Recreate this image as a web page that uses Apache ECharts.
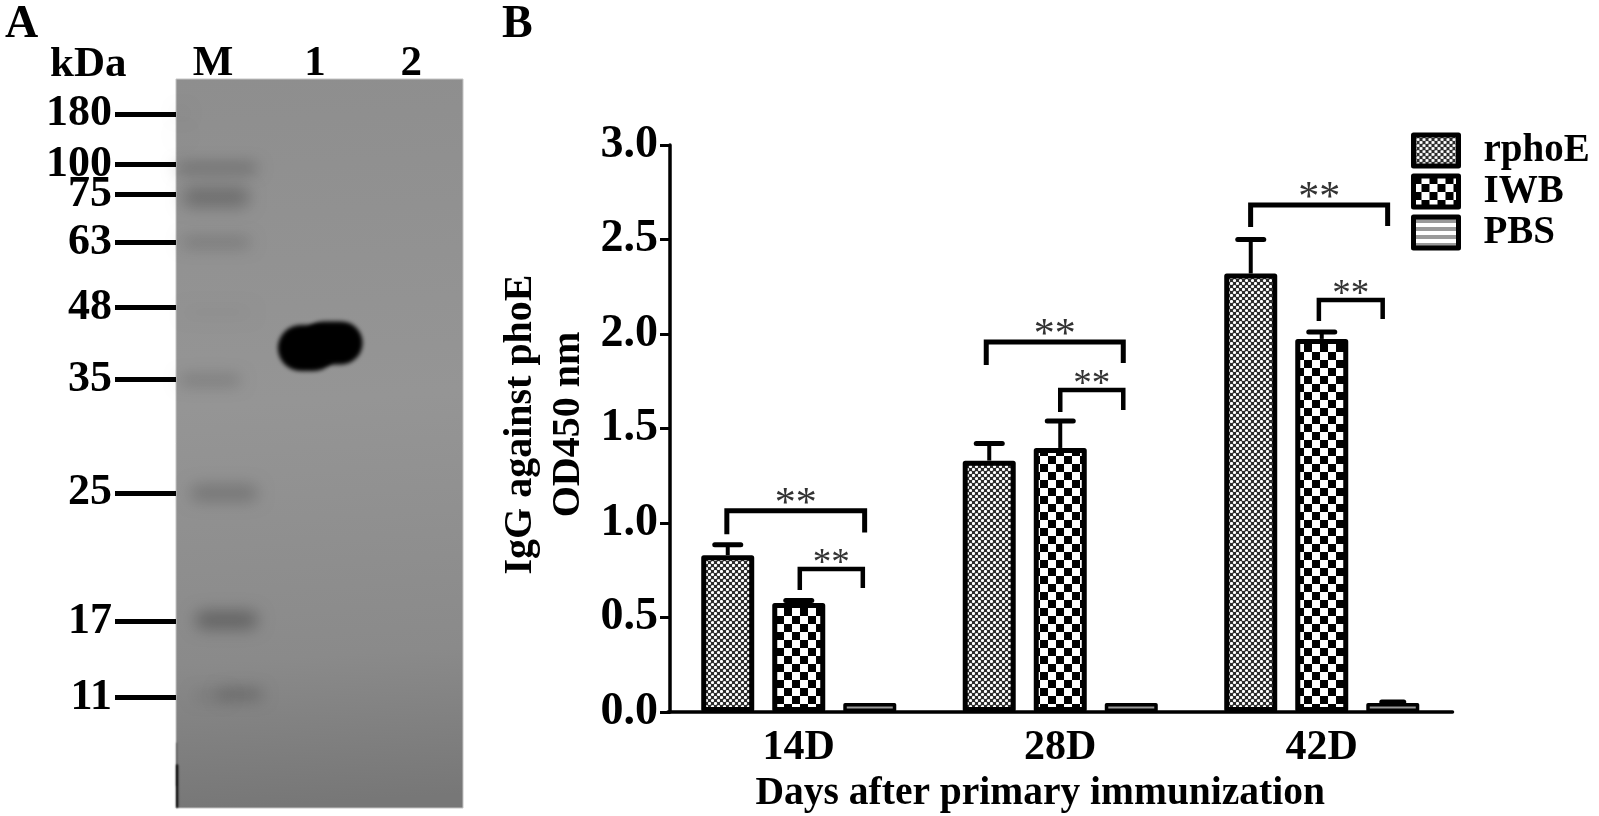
<!DOCTYPE html>
<html>
<head>
<meta charset="utf-8">
<title>rphoE western blot and IgG</title>
<style>
    html, body { margin: 0; background: #fff; }
    #main { width: 1599px; height: 816px; }
</style>
</head>
<body>
<div id="main"></div>
<script src="https://cdn.jsdelivr.net/npm/echarts@6/dist/echarts.min.js"></script>
<script>
    // ---- panel A, positions are % of the membrane ----
    const ladderLabels = ['180', '100', '75', '63', '48', '35', '25', '17', '11']
    const ladderMigration = [4.8, 11.7, 15.8, 22.4, 31.3, 41.2, 56.8, 74.4, 84.8]
    const laneLabels = ['M', '1', '2']
    const lanePositions = [12.9, 48.4, 82]

    // [left, right, middle, thickness, darkness]
    const markerBands = [
        [0.3, 3.5, 4.7, 0.5, 0.22],
        [0.3, 3, 7.7, 0.4, 0.14],
        [0.3, 28.2, 12.2, 0.8, 0.46],
        [2.1, 25.8, 16.2, 2.8, 0.24],
        [2.1, 25.8, 22.4, 1.0, 0.26],
        [3.1, 25.8, 32, 0.6, 0.08],
        [1.4, 22.3, 41.3, 1.0, 0.26],
        [4.9, 28.6, 56.8, 2.2, 0.2],
        [6.6, 28.6, 74.2, 2.4, 0.3],
        [6.6, 18, 84.6, 0.6, 0.24],
        [15, 30, 84.4, 1.1, 0.32]
    ]
    const blotLobes = [
        [35.5, 56, 36.9, 6.3, 1],
        [44, 65, 36.2, 5.9, 1]
    ]
    const gelEdge = [
        [0, 0.4, 94, 6, 0.4],
        [0, 0.8, 97, 6, 0.9]
    ]

    // ---- panel B ----
    const days = ['14D', '28D', '42D']
    const seriesNames = ['rphoE', 'IWB', 'PBS']
    const rphoE = [0.83, 1.33, 2.32]
    const iwb = [0.577, 1.397, 1.974]
    const pbs = [0.048, 0.048, 0.048]
    const rphoEError = [0.885, 1.42, 2.5]
    const iwbError = [0.59, 1.54, 2.01]
    const pbsError = [0.048, 0.048, 0.053]

    // significance brackets, x is the offset from the group centre in bands
    const bracketGroup = [0, 0, 1, 1, 2, 2]
    const bracketLeft = [-0.275, 0.004, -0.283, 0, -0.272, -0.011]
    const bracketRight = [0.252, 0.245, 0.241, 0.241, 0.252, 0.233]
    const bracketTop = [1.065, 0.757, 1.958, 1.704, 2.683, 2.18]
    const bracketLeftEnd = [0.94, 0.645, 1.836, 1.587, 2.566, 2.069]
    const bracketRightEnd = [0.95, 0.656, 1.847, 1.598, 2.571, 2.079]
    const bracketText = ['**', '**', '**', '**', '**', '**']

    const FONT = '"Liberation Serif", serif'
    const barSlot = 71 / 261.5

    function makePattern(size, draw) {
        const c = document.createElement('canvas')
        c.width = size
        c.height = size
        draw(c.getContext('2d'))
        return { image: c, repeat: 'repeat' }
    }

    const dotPattern = makePattern(6, (ctx) => {
        ctx.fillStyle = '#2c2c2c'
        ctx.fillRect(0, 0, 6, 6)
        ctx.fillStyle = '#fff'
        ctx.beginPath()
        ctx.arc(1.5, 1.5, 1.6, 0, Math.PI * 2)
        ctx.arc(4.5, 4.5, 1.6, 0, Math.PI * 2)
        ctx.fill()
    })
    const checkPattern = makePattern(16, (ctx) => {
        ctx.fillStyle = '#fff'
        ctx.fillRect(0, 0, 16, 16)
        ctx.fillStyle = '#000'
        ctx.fillRect(0, 0, 8, 8)
        ctx.fillRect(8, 8, 8, 8)
    })
    const stripePattern = makePattern(8, (ctx) => {
        ctx.fillStyle = '#fff'
        ctx.fillRect(0, 0, 8, 8)
        ctx.fillStyle = '#9a9a9a'
        ctx.fillRect(0, 2, 8, 4)
    })

    // soft band: the shape sits off the page and only its shadow lands on the gel
    function softBand(blur) {
        return function (params, api) {
            const a = api.coord([api.value(0), api.value(2) - api.value(3) / 2])
            const b = api.coord([api.value(1), api.value(2) + api.value(3) / 2])
            const h = b[1] - a[1]
            return {
                type: 'rect',
                shape: { x: a[0] - 3000, y: a[1], width: b[0] - a[0], height: h, r: h / 2 },
                style: {
                    fill: '#000',
                    shadowColor: 'rgba(0,0,0,' + api.value(4) + ')',
                    shadowBlur: blur,
                    shadowOffsetX: 3000
                },
                silent: true
            }
        }
    }

    function renderError(params, api) {
        const band = api.size([1, 0])[0]
        const x = api.coord([api.value(0), 0])[0] + (api.value(1) - 1) * barSlot * band
        const y0 = api.coord([api.value(0), api.value(2)])[1]
        const y1 = api.coord([api.value(0), api.value(3)])[1]
        const capW = api.value(1) === 2 ? 11 : 13
        return {
            type: 'group',
            silent: true,
            children: [
                { type: 'line', shape: { x1: x, y1: y0, x2: x, y2: y1 }, style: { stroke: '#000', lineWidth: 4 } },
                { type: 'line', shape: { x1: x - capW, y1: y1, x2: x + capW, y2: y1 }, style: { stroke: '#000', lineWidth: 5, lineCap: 'round' } }
            ]
        }
    }

    function renderBracket(params, api) {
        const band = api.size([1, 0])[0]
        const cx = api.coord([api.value(0), 0])[0]
        const xl = cx + api.value(1) * band
        const xr = cx + api.value(2) * band
        const top = api.coord([api.value(0), api.value(3)])[1]
        const yl = api.coord([api.value(0), api.value(4)])[1]
        const yr = api.coord([api.value(0), api.value(5)])[1]
        const wide = api.value(2) - api.value(1) > 0.4
        return {
            type: 'group',
            silent: true,
            children: [
                {
                    type: 'polyline',
                    shape: { points: [[xl, yl], [xl, top], [xr, top], [xr, yr]] },
                    style: { stroke: '#000', fill: null, lineWidth: wide ? 5 : 4.5 }
                },
                {
                    type: 'text',
                    style: {
                        text: bracketText[params.dataIndex],
                        x: (xl + xr) / 2,
                        y: top - (wide ? 6 : 5),
                        align: 'center',
                        verticalAlign: 'middle',
                        fill: '#333',
                        font: (wide ? 42 : 37) + 'px ' + FONT
                    }
                }
            ]
        }
    }

    const errorData = []
    ;[[rphoE, rphoEError], [iwb, iwbError], [pbs, pbsError]].forEach((pair, slot) => {
        days.forEach((d, g) => {
            if (pair[1][g] > pair[0][g]) errorData.push([g, slot, pair[0][g], pair[1][g]])
        })
    })

    function barSeries(name, values, pattern, borderWidth) {
        return {
            name: name,
            type: 'bar',
            xAxisIndex: 1,
            yAxisIndex: 1,
            barWidth: 53,
            barGap: '34%',
            data: values,
            itemStyle: { color: pattern, borderColor: '#000', borderWidth: borderWidth, borderJoin: 'round' },
            silent: true,
            animation: false
        }
    }

    const option = {
        animation: false,
        backgroundColor: '#fff',
        title: [
            { text: 'A', left: 0, top: -3, textStyle: { fontFamily: FONT, fontSize: 46, fontWeight: 'bold', color: '#000' } },
            { text: 'B', left: 497, top: -3, textStyle: { fontFamily: FONT, fontSize: 46, fontWeight: 'bold', color: '#000' } },
            { text: 'kDa', left: 45, top: 38, textStyle: { fontFamily: FONT, fontSize: 43, fontWeight: 'bold', color: '#000' } }
        ],
        legend: {
            orient: 'vertical',
            left: 1406,
            top: 126,
            itemWidth: 45,
            itemHeight: 31,
            itemGap: 2,
            icon: 'rect',
            selectedMode: false,
            data: seriesNames,
            itemStyle: { borderColor: '#000', borderWidth: 5, borderJoin: 'round' },
            textStyle: { fontFamily: FONT, fontSize: 39, lineHeight: 31, fontWeight: 'bold', color: '#000', padding: [0, 0, 0, 20] }
        },
        grid: [
            {
                left: 176, top: 79, width: 287, height: 729,
                outerBoundsMode: 'none',
                show: true,
                borderColor: '#c4c4c4',
                borderWidth: 1,
                backgroundColor: {
                    type: 'linear', x: 0, y: 0, x2: 0.15, y2: 1,
                    colorStops: [
                        { offset: 0, color: '#8e8e8e' },
                        { offset: 0.45, color: '#959595' },
                        { offset: 0.8, color: '#8a8a8a' },
                        { offset: 1, color: '#777' }
                    ]
                }
            },
            { left: 668, top: 145, width: 784.5, height: 567, outerBoundsMode: 'none' }
        ],
        xAxis: [
            {
                gridIndex: 0,
                type: 'value',
                position: 'top',
                min: 0,
                max: 100,
                splitLine: { show: false },
                axisLine: { show: false },
                axisTick: { show: false },
                axisLabel: {
                    customValues: lanePositions,
                    formatter: (v) => laneLabels[lanePositions.indexOf(v)],
                    margin: -6,
                    color: '#000',
                    fontFamily: FONT,
                    fontSize: 43,
                    fontWeight: 'bold'
                }
            },
            {
                gridIndex: 1,
                type: 'category',
                data: days,
                name: 'Days after primary immunization',
                nameLocation: 'middle',
                nameGap: 60,
                nameTextStyle: { fontFamily: FONT, fontSize: 39.5, fontWeight: 'bold', color: '#000', padding: [0, 40, 0, 0] },
                axisLine: { lineStyle: { color: '#000', width: 3.5 } },
                axisTick: { alignWithLabel: true, length: 11, lineStyle: { color: '#000', width: 3 } },
                axisLabel: { margin: 15, color: '#000', fontFamily: FONT, fontSize: 42, fontWeight: 'bold' }
            }
        ],
        yAxis: [
            {
                gridIndex: 0,
                type: 'value',
                inverse: true,
                min: 0,
                max: 100,
                splitLine: { show: false },
                axisLine: { show: false },
                axisTick: {
                    customValues: ladderMigration,
                    length: 61,
                    lineStyle: { color: '#000', width: 5 }
                },
                axisLabel: {
                    customValues: ladderMigration,
                    formatter: (v) => ladderLabels[ladderMigration.indexOf(v)],
                    margin: 64,
                    color: '#000',
                    fontFamily: FONT,
                    fontSize: 44,
                    fontWeight: 'bold',
                    padding: [4, 0, 0, 0]
                }
            },
            {
                gridIndex: 1,
                type: 'value',
                min: 0,
                max: 3,
                interval: 0.5,
                offset: -2,
                splitLine: { show: false },
                name: 'IgG against phoE\nOD450 nm',
                nameLocation: 'middle',
                nameRotate: 90,
                nameGap: 77,
                nameTextStyle: { fontFamily: FONT, fontSize: 40, fontWeight: 'bold', color: '#000', lineHeight: 48, padding: [0, 0, 0, 8] },
                axisLine: { show: true, lineStyle: { color: '#000', width: 3.5 } },
                axisTick: { show: true, length: 10, lineStyle: { color: '#000', width: 3 } },
                axisLabel: {
                    margin: 12,
                    color: '#000',
                    fontFamily: FONT,
                    fontSize: 46,
                    fontWeight: 'bold',
                    padding: [5, 0, 0, 0],
                    formatter: (v) => v.toFixed(1)
                }
            }
        ],
        series: [
            { type: 'custom', xAxisIndex: 0, yAxisIndex: 0, renderItem: softBand(16), data: markerBands, clip: false, silent: true },
            { type: 'custom', xAxisIndex: 0, yAxisIndex: 0, renderItem: softBand(4), data: blotLobes, clip: false, silent: true },
            { type: 'custom', xAxisIndex: 0, yAxisIndex: 0, renderItem: softBand(2), data: gelEdge, clip: false, silent: true },
            barSeries(seriesNames[0], rphoE, dotPattern, 5),
            barSeries(seriesNames[1], iwb, checkPattern, 5),
            barSeries(seriesNames[2], pbs, stripePattern, 3.5),
            { type: 'custom', xAxisIndex: 1, yAxisIndex: 1, renderItem: renderError, data: errorData, encode: { x: 0, y: 3 }, silent: true },
            {
                type: 'custom',
                xAxisIndex: 1,
                yAxisIndex: 1,
                renderItem: renderBracket,
                data: bracketGroup.map((g, i) => [g, bracketLeft[i], bracketRight[i], bracketTop[i], bracketLeftEnd[i], bracketRightEnd[i]]),
                encode: { x: 0, y: 3 },
                silent: true
            }
        ]
    }

    const mChart = echarts.init(document.getElementById('main'))
    mChart.setOption(option)
    window.addEventListener('resize', function () {
        mChart.resize()
    })
</script>
</body>
</html>
